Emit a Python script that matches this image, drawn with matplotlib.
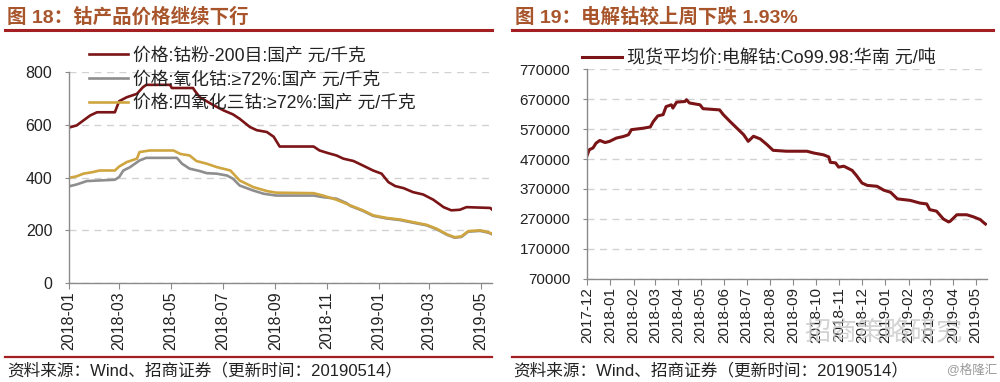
import numpy as np
import pandas as pd
import matplotlib
matplotlib.use("Agg")
import matplotlib.pyplot as plt
import matplotlib.dates as mdates
from matplotlib.lines import Line2D

plt.rcParams['font.family'] = ['Liberation Sans', 'Noto Sans CJK SC', 'DejaVu Sans']

# ---- left chart: cobalt products, yuan/kg ----
powder_dates = ['2018-01-01', '2018-01-10', '2018-01-18', '2018-01-26', '2018-02-03', '2018-02-24',
                '2018-03-01', '2018-03-10', '2018-03-22', '2018-03-29', '2018-04-02', '2018-04-30',
                '2018-05-02', '2018-05-27', '2018-05-29', '2018-06-04', '2018-06-20', '2018-07-02',
                '2018-07-13', '2018-07-21', '2018-08-02', '2018-08-10', '2018-08-22', '2018-08-30',
                '2018-09-06', '2018-10-16', '2018-10-23', '2018-11-02', '2018-11-12', '2018-11-20',
                '2018-12-02', '2018-12-13', '2018-12-25', '2019-01-04', '2019-01-12', '2019-01-20',
                '2019-01-30', '2019-02-10', '2019-02-22', '2019-03-06', '2019-03-18', '2019-03-27',
                '2019-04-06', '2019-04-14', '2019-05-12', '2019-05-14']
powder = [590, 598, 617, 636, 648, 648, 690, 705, 718, 743, 752, 752, 740, 740, 730, 705, 675, 655,
          640, 623, 592, 580, 573, 555, 518, 518, 503, 493, 484, 472, 463, 446, 427, 415, 383, 368,
          360, 345, 336, 316, 288, 276, 278, 288, 285, 279]

oxide_dates = ['2018-01-01', '2018-01-10', '2018-01-22', '2018-02-24', '2018-03-01', '2018-03-06',
               '2018-03-14', '2018-03-25', '2018-04-02', '2018-05-08', '2018-05-14', '2018-05-23',
               '2018-06-04', '2018-06-12', '2018-06-24', '2018-07-06', '2018-07-13', '2018-07-21',
               '2018-08-06', '2018-08-18', '2018-09-02', '2018-10-16', '2018-10-27', '2018-11-12',
               '2018-11-24', '2018-11-28', '2018-12-13', '2018-12-25', '2019-01-10', '2019-01-26',
               '2019-02-10', '2019-02-26', '2019-03-10', '2019-03-22', '2019-03-31', '2019-04-08',
               '2019-04-16', '2019-04-30', '2019-05-10', '2019-05-14']
oxide = [367, 374, 387, 392, 402, 427, 440, 465, 475, 475, 453, 434, 425, 417, 415, 408, 396, 370,
         351, 339, 332, 332, 326, 320, 303, 293, 274, 255, 245, 239, 229, 219, 204, 183, 172, 175,
         195, 198, 191, 185]

co3o4_dates = ['2018-01-01', '2018-01-10', '2018-01-18', '2018-01-29', '2018-02-06', '2018-02-24',
               '2018-03-01', '2018-03-10', '2018-03-22', '2018-03-25', '2018-04-06', '2018-05-04',
               '2018-05-12', '2018-05-23', '2018-05-31', '2018-06-12', '2018-06-24', '2018-07-10',
               '2018-07-21', '2018-08-06', '2018-08-22', '2018-09-02', '2018-10-16', '2018-10-27',
               '2018-11-12', '2018-11-28', '2018-12-13', '2018-12-25', '2019-01-10', '2019-01-26',
               '2019-02-10', '2019-02-26', '2019-03-10', '2019-03-22', '2019-03-31', '2019-04-08',
               '2019-04-16', '2019-04-30', '2019-05-10', '2019-05-14']
co3o4 = [399, 405, 415, 421, 427, 427, 442, 459, 472, 497, 503, 503, 490, 484, 463, 453, 440, 427,
         389, 364, 349, 343, 341, 332, 316, 295, 276, 257, 247, 241, 231, 221, 206, 185, 174, 177,
         197, 200, 193, 187]

left_labels = ['价格:钴粉-200目:国产 元/千克',
               '价格:氧化钴:≥72%:国产 元/千克',
               '价格:四氧化三钴:≥72%:国产 元/千克']

# ---- right chart: electrolytic cobalt, yuan/ton ----
cathode_dates = ['2017-12-01', '2017-12-04', '2017-12-09', '2017-12-13', '2017-12-18', '2017-12-25',
                 '2017-12-31', '2018-01-09', '2018-01-18', '2018-01-25', '2018-01-29', '2018-02-14',
                 '2018-02-23', '2018-02-27', '2018-03-05', '2018-03-12', '2018-03-16', '2018-03-23',
                 '2018-03-25', '2018-03-30', '2018-04-10', '2018-04-12', '2018-04-16', '2018-04-30',
                 '2018-05-04', '2018-05-26', '2018-05-31', '2018-06-09', '2018-06-18', '2018-06-27',
                 '2018-07-03', '2018-07-10', '2018-07-19', '2018-07-28', '2018-08-05', '2018-08-23',
                 '2018-09-19', '2018-09-28', '2018-10-11', '2018-10-18', '2018-10-20', '2018-10-27',
                 '2018-10-31', '2018-11-07', '2018-11-18', '2018-11-24', '2018-12-01', '2018-12-08',
                 '2018-12-21', '2018-12-30', '2019-01-08', '2019-01-17', '2019-02-03', '2019-02-16',
                 '2019-02-25', '2019-03-01', '2019-03-10', '2019-03-19', '2019-03-26', '2019-03-28',
                 '2019-04-06', '2019-04-19', '2019-04-28', '2019-05-07', '2019-05-11', '2019-05-14']
cathode = [481000, 501000, 507000, 523000, 532000, 525000, 529000, 540000, 545000, 551000, 568000,
           573000, 577000, 595000, 614000, 618000, 645000, 651000, 640000, 660000, 662000, 668000,
           657000, 651000, 638000, 634000, 618000, 595000, 573000, 551000, 529000, 546000, 537000,
           518000, 499000, 496000, 496000, 490000, 484000, 477000, 459000, 457000, 443000, 446000,
           432000, 414000, 390000, 382000, 379000, 366000, 359000, 337000, 332000, 323000, 320000,
           301000, 296000, 270000, 260000, 262000, 284000, 284000, 277000, 268000, 259000, 253000]
right_label = '现货平均价:电解钴:Co99.98:华南 元/吨'
right_yticks = [70000, 170000, 270000, 370000, 470000, 570000, 670000, 770000]

RED = '#7a1416'
GRAY = '#8e8e8e'
GOLD = '#cfa540'
TITLE_C = '#a8552c'
BAR_C = '#a31f22'
TXT = '#222222'

fig = plt.figure(figsize=(10, 3.82), dpi=100)


def style_axis(ax):
    for s in ['top', 'right']:
        ax.spines[s].set_visible(False)
    for s in ['left', 'bottom']:
        ax.spines[s].set_color('#8a8a8a')
        ax.spines[s].set_linewidth(1.0)
    ax.grid(axis='y', color='#d2d2d2', linestyle=(0, (5, 4)), linewidth=1.0)
    ax.set_axisbelow(True)
    ax.tick_params(axis='y', length=3, color='#8a8a8a', pad=9, labelcolor=TXT)
    ax.tick_params(axis='x', length=4, color='#8a8a8a', pad=2, labelcolor=TXT,
                   labelrotation=90)


# left
ax1 = fig.add_axes([0.069, 0.259, 0.423, 0.552])
ax1.plot(pd.to_datetime(powder_dates), powder, color=RED, lw=1.9, label=left_labels[0])
ax1.plot(pd.to_datetime(oxide_dates), oxide, color=GRAY, lw=1.9, label=left_labels[1])
ax1.plot(pd.to_datetime(co3o4_dates), co3o4, color=GOLD, lw=1.9, label=left_labels[2])
ax1.set_ylim(0, 800)
ax1.set_yticks([0, 200, 400, 600, 800])
ax1.set_xlim(pd.Timestamp('2018-01-01'), pd.Timestamp('2019-05-14'))
ax1.xaxis.set_major_locator(mdates.MonthLocator(bymonth=[1, 3, 5, 7, 9, 11]))
ax1.xaxis.set_major_formatter(mdates.DateFormatter('%Y-%m'))
style_axis(ax1)
for lab in ax1.get_yticklabels() + ax1.get_xticklabels():
    lab.set_fontsize(11.5)
ax1.legend(loc='upper left', bbox_to_anchor=(0.089, 0.876), bbox_transform=fig.transFigure,
           frameon=False, fontsize=12.8, handlelength=2.2, handletextpad=0.3,
           labelspacing=0.38, borderaxespad=0, borderpad=0, labelcolor=TXT)

# right
ax2 = fig.add_axes([0.587, 0.270, 0.400, 0.549])
ax2.plot(pd.to_datetime(cathode_dates), cathode, color=RED, lw=2.2, label=right_label)
ax2.set_ylim(70000, 770000)
ax2.set_yticks(right_yticks)
ax2.set_xlim(pd.Timestamp('2017-12-01'), pd.Timestamp('2019-05-16'))
ax2.xaxis.set_major_locator(mdates.MonthLocator())
ax2.xaxis.set_major_formatter(mdates.DateFormatter('%Y-%m'))
style_axis(ax2)
for lab in ax2.get_yticklabels() + ax2.get_xticklabels():
    lab.set_fontsize(11)
ax2.legend(loc='upper left', bbox_to_anchor=(0.582, 0.868), bbox_transform=fig.transFigure,
           frameon=False, fontsize=13, handlelength=2.2, handletextpad=0.3,
           borderaxespad=0, borderpad=0, labelcolor=TXT)

# titles, rules and source notes
fig.text(0.007, 0.956, '图 18：钴产品价格继续下行', fontsize=14, fontweight='bold',
         color=TITLE_C, va='center', ha='left')
fig.text(0.515, 0.956, '图 19：电解钴较上周下跌 1.93%', fontsize=14, fontweight='bold',
         color=TITLE_C, va='center', ha='left')
for x0, x1 in [(0.005, 0.492), (0.512, 0.993)]:
    fig.add_artist(Line2D([x0, x1], [1 - 29.5 / 382] * 2, color=BAR_C, lw=2.2))
    fig.add_artist(Line2D([x0, x1], [1 - 357 / 382] * 2, color=BAR_C, lw=1.6))
src = '资料来源：Wind、招商证券（更新时间：20190514）'
fig.text(0.007, 1 - 370 / 382, src, fontsize=12, color=TXT, va='center', ha='left')
fig.text(0.513, 1 - 370 / 382, src, fontsize=12, color=TXT, va='center', ha='left')
fig.text(0.997, 1 - 370 / 382, '@格隆汇', fontsize=9, color='#9a9a9a', va='center', ha='right')
fig.text(0.883, 1 - 333 / 382, '招商策略研究', fontsize=19, color='#c8c8c8', alpha=0.8,
         va='center', ha='center', zorder=10)

fig.savefig('out.png', dpi=100)
